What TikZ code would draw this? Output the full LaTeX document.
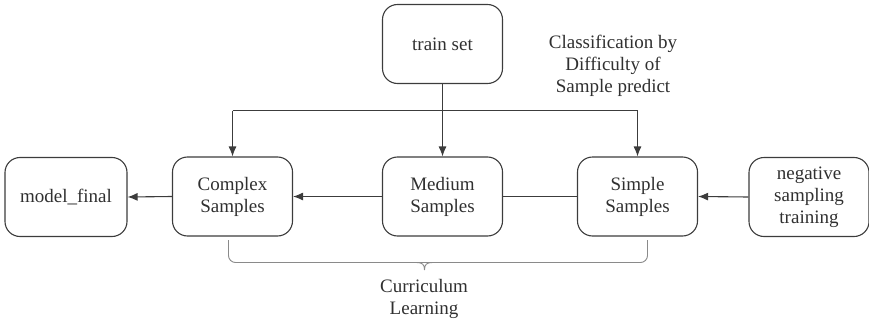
\documentclass[tikz,border=0pt]{standalone}
\usepackage{fontspec}
\setmainfont{Liberation Serif}
\usetikzlibrary{arrows.meta}
\definecolor{linegray}{HTML}{3C3C3C}
\definecolor{bracegray}{HTML}{8A8A8A}
\definecolor{textgray}{HTML}{303030}
\begin{document}
\begin{tikzpicture}[x=1pt,y=-1pt,
  box/.style={draw=linegray, line width=1.1pt, rounded corners=15pt,
    minimum width=120pt, minimum height=79pt, align=center,
    text=textgray, font=\fontsize{19}{22}\selectfont, inner sep=2pt},
  link/.style={draw=linegray, line width=1.1pt},
  arr/.style={link, -{Latex[length=10pt,width=8pt]}},
  lbl/.style={align=center, text=textgray, font=\fontsize{19}{22}\selectfont}]
\useasboundingbox (0,0) rectangle (869,321);

% nodes
\node[box] (train) at (442.5,44) {train set};
\node[box, minimum width=122pt] (final) at (66,197) {model\_final};
\node[box] (complex) at (232.5,196.5) {Complex\\Samples};
\node[box] (medium) at (442.5,196.5) {Medium\\Samples};
\node[box] (simple) at (637.5,196.5) {Simple\\Samples};
\node[box] (neg) at (809,197) {negative\\sampling\\training};

\node[lbl] (cls) at (613,66) {Classification by\\Difficulty of\\Sample predict};

% distribution bus from the train set
\coordinate (bus) at (442.5,110.5);
\draw[link] (train.south) -- (bus);
\draw[arr] (bus) -- (medium.north);
\draw[link] (complex.north |- bus) -- (simple.north |- bus);
\draw[arr] (complex.north |- bus) -- (complex.north);
\draw[arr] (simple.north |- bus) -- (simple.north);

% horizontal flow
\draw[link] (simple.west) -- (medium.east);
\draw[arr] (medium.west) -- (complex.east);
\draw[arr] (complex.west) -- (final.east);
\draw[arr] (neg.west) -- (simple.east);

% curriculum brace
\coordinate (bl) at (228.5,240);
\coordinate (br) at (647.5,240);
\coordinate (tip) at (424.5,270);
\draw[draw=bracegray, line width=0.9pt, rounded corners=7pt]
  (bl) -- (228.5,262.5) -- (647.5,262.5) -- (br);
\draw[draw=bracegray, line width=0.9pt]
  (416.5,262.5) .. controls (422.5,262.5) and (424.5,264.5) .. (tip)
  (432.5,262.5) .. controls (426.5,262.5) and (424.5,264.5) .. (tip);
\node[lbl] (cur) at (424,299) {Curriculum\\Learning};
\end{tikzpicture}
\end{document}
